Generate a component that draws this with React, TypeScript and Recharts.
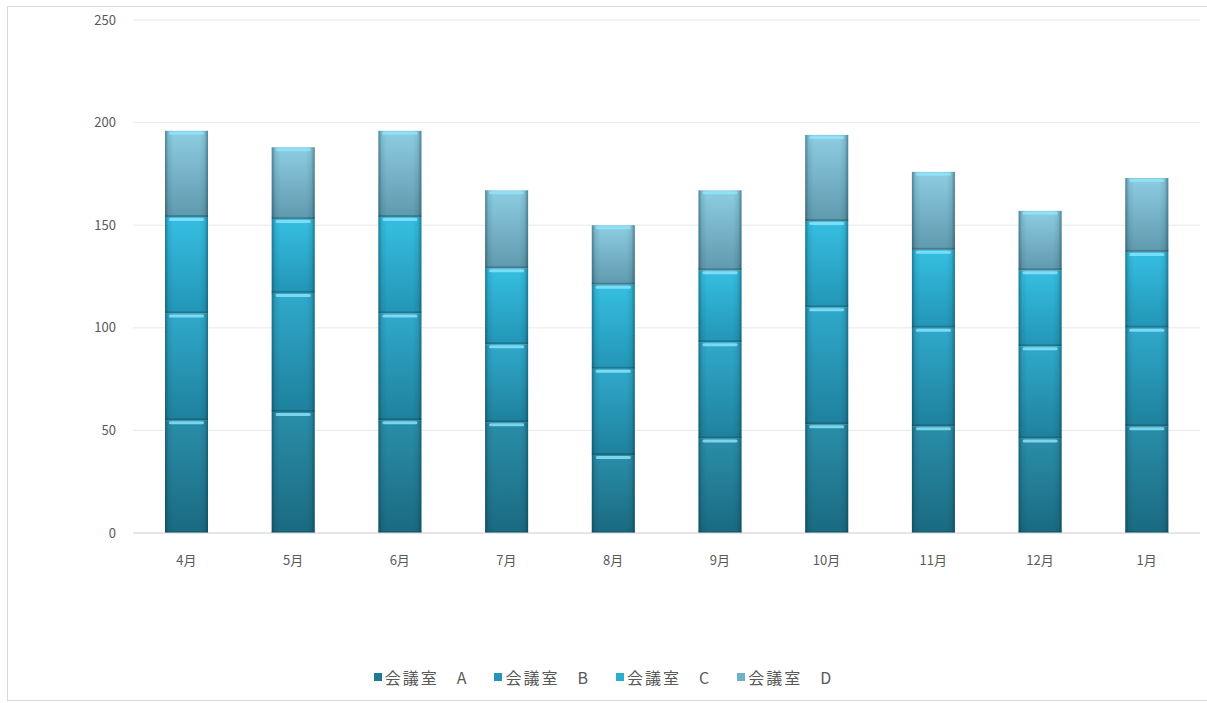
import { BarChart, Bar, XAxis, YAxis, CartesianGrid, Legend } from "recharts"

const months = ["4月", "5月", "6月", "7月", "8月", "9月", "10月", "11月", "12月", "1月"]
const roomA = [55, 59, 55, 54, 38, 46, 53, 52, 46, 52]
const roomB = [52, 58, 52, 38, 42, 47, 57, 48, 45, 48]
const roomC = [47, 36, 47, 37, 41, 35, 42, 38, 37, 37]
const roomD = [42, 35, 42, 38, 29, 39, 42, 38, 29, 36]
const yTicks = [0, 50, 100, 150, 200, 250]

const data = months.map((m, i) => ({
  name: m,
  a: roomA[i],
  b: roomB[i],
  c: roomC[i],
  d: roomD[i],
}))

const series = [
  { key: "a", name: "会議室　A", top: "#2a8ea9", bottom: "#1a6a81", swatch: "#1f7a93" },
  { key: "b", name: "会議室　B", top: "#30a9cb", bottom: "#1e819d", swatch: "#2595b6" },
  { key: "c", name: "会議室　C", top: "#35bfe2", bottom: "#2395b6", swatch: "#2aaed2" },
  { key: "d", name: "会議室　D", top: "#8dcde2", bottom: "#5f99ae", swatch: "#6fb2c8" },
]

const font = "'Noto Sans CJK JP', 'Noto Sans', sans-serif"

function GlossyBar(props: any) {
  const { x, y, width, height, gradId } = props
  if (!height || height <= 0) return null
  return (
    <g>
      <rect x={x} y={y} width={width} height={height} fill={`url(#${gradId})`} />
      <rect x={x} y={y} width={width} height={height} fill="url(#edgeShade)" />
      <rect x={x + 4} y={y + 1} width={width - 8} height={3} rx={1.5} fill="#8fe6fb" opacity={0.8} />
      <rect x={x} y={y + height - 2} width={width} height={2} fill="#0b3c4a" opacity={0.3} />
    </g>
  )
}

function LegendContent(props: any) {
  const { payload } = props
  return (
    <div style={{ display: "flex", justifyContent: "center", fontFamily: font, fontSize: 16, letterSpacing: 2, color: "#595959" }}>
      {payload.map((p: any) => (
        <div key={p.value} style={{ display: "flex", alignItems: "center", margin: "0 13px" }}>
          <span style={{ display: "inline-block", width: 8, height: 8, background: p.color, marginRight: 3 }} />
          <span style={{ whiteSpace: "pre" }}>{p.value}</span>
        </div>
      ))}
    </div>
  )
}

export default function App() {
  return (
    <div style={{ position: "absolute", left: 0, top: 0, width: 1207, height: 703, background: "#fff", overflow: "hidden" }}>
      <div
        style={{
          position: "absolute",
          left: 7,
          top: 6,
          width: 1220,
          height: 693,
          border: "1px solid #d9d9d9",
        }}
      />
      <div style={{ position: "absolute", left: 0, top: 0 }}>
        <BarChart
          width={1207}
          height={703}
          data={data}
          barCategoryGap="30%"
          margin={{ top: 20, right: 7, left: 0, bottom: 140 }}
        >
          <defs>
            {series.map((s) => (
              <linearGradient key={s.key} id={`grad-${s.key}`} x1="0" y1="0" x2="0" y2="1">
                <stop offset="0%" stopColor={s.top} />
                <stop offset="100%" stopColor={s.bottom} />
              </linearGradient>
            ))}
            <linearGradient id="edgeShade" x1="0" y1="0" x2="1" y2="0">
              <stop offset="0%" stopColor="#062c38" stopOpacity={0.45} />
              <stop offset="8%" stopColor="#062c38" stopOpacity={0.1} />
              <stop offset="20%" stopColor="#062c38" stopOpacity={0} />
              <stop offset="80%" stopColor="#062c38" stopOpacity={0} />
              <stop offset="92%" stopColor="#062c38" stopOpacity={0.1} />
              <stop offset="100%" stopColor="#062c38" stopOpacity={0.45} />
            </linearGradient>
          </defs>
          <CartesianGrid vertical={false} stroke="#e8e8e8" />
          <XAxis
            dataKey="name"
            height={30}
            tickLine={false}
            axisLine={{ stroke: "#d9d9d9" }}
            tickMargin={17}
            tick={{ fill: "#595959", fontSize: 13, fontFamily: font }}
          />
          <YAxis
            width={133}
            domain={[0, 250]}
            ticks={yTicks}
            axisLine={false}
            tickLine={false}
            tickSize={0}
            tickMargin={17}
            tick={{ fill: "#595959", fontSize: 13, fontFamily: font }}
          />
          <Legend
            verticalAlign="middle"
            align="center"
            layout="horizontal"
            wrapperStyle={{ top: 665, left: 0, width: 1207 }}
            content={<LegendContent />}
          />
          {series.map((s) => (
            <Bar
              key={s.key}
              dataKey={s.key}
              name={s.name}
              stackId="rooms"
              fill={s.swatch}
              isAnimationActive={false}
              shape={(p: any) => <GlossyBar {...p} gradId={`grad-${s.key}`} />}
            />
          ))}
        </BarChart>
      </div>
    </div>
  )
}
